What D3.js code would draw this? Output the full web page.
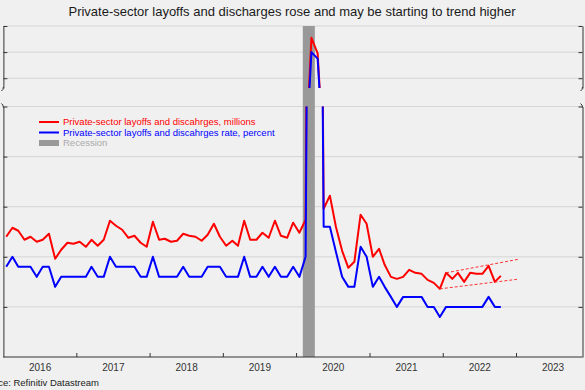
<!DOCTYPE html>
<html><head><meta charset="utf-8">
<script src="https://cdn.jsdelivr.net/npm/d3@7"></script>
<style>
html,body{margin:0;padding:0;background:#f0f0f0;}
svg{display:block;font-family:"Liberation Sans",Arial,sans-serif;}
</style></head>
<body><svg id="c" width="585" height="390"></svg>
<script>
// ---- data ----
const startMonth = "2016-01";
const layoffsMillions = [1.70,1.79,1.76,1.67,1.70,1.65,1.67,1.73,1.48,1.57,1.64,1.63,
 1.65,1.60,1.67,1.61,1.67,1.86,1.81,1.77,1.69,1.71,1.64,1.60,
 1.85,1.67,1.68,1.65,1.66,1.73,1.71,1.70,1.66,1.72,1.83,1.70,
 1.61,1.66,1.61,1.86,1.67,1.67,1.74,1.69,1.86,1.71,1.69,1.84,
 1.74,1.87,11.10,9.91,1.98,2.11,1.80,1.56,1.39,1.45,1.92,1.83,
 1.50,1.58,1.42,1.30,1.28,1.30,1.37,1.34,1.33,1.27,1.24,1.18,
 1.34,1.28,1.34,1.25,1.34,1.33,1.33,1.41,1.25,1.31];
const layoffsRate = [1.4,1.5,1.4,1.4,1.4,1.3,1.4,1.4,1.2,1.3,1.3,1.3,
 1.3,1.3,1.4,1.3,1.3,1.5,1.4,1.4,1.4,1.4,1.3,1.3,
 1.5,1.3,1.3,1.3,1.3,1.4,1.3,1.3,1.3,1.4,1.4,1.4,
 1.3,1.3,1.3,1.5,1.3,1.3,1.4,1.3,1.4,1.3,1.3,1.4,
 1.3,1.5,10.0,9.5,1.8,1.8,1.55,1.3,1.2,1.2,1.6,1.5,
 1.2,1.3,1.2,1.1,1.0,1.1,1.1,1.1,1.1,1.0,1.0,0.9,
 1.0,1.0,1.0,1.0,1.0,1.0,1.0,1.1,1.0,1.0];
const recession = ["2020-02-01","2020-04-01"];
const trendUpper = [["2022-01-15",1.34],["2023-01-10",1.475]];
const trendLower = [["2021-12-15",1.18],["2023-01-03",1.275]];
const years = [2016,2017,2018,2019,2020,2021,2022,2023];
const topTicks = [8,10,12];
const bottomTicks = [1.0,1.5,2.0,2.5,3.0];
const legendLabels = ["Private-sector layoffs and discahrges, millions",
  "Private-sector layoffs and discahrges rate, percent","Recession"];
const title = "Private-sector layoffs and discharges rose and may be starting to trend higher";
const source = "Source: Refinitiv Datastream";

// ---- layout ----
const L = 3.4, R = 582.5;
const topY0 = 26, topY1 = 88, botY0 = 106.5, botY1 = 357;
const parse = d3.timeParse("%Y-%m-%d");
const dates = layoffsMillions.map((_, i) => { const d = d3.timeParse("%Y-%m")(startMonth); return new Date(d.getFullYear(), d.getMonth()+i, 15); });

const x = d3.scaleTime().domain([new Date(2016,0,1), new Date(2023,0,1)]).range([L, 516.5]);
const yTop = d3.scaleLinear().domain([7.25, 12]).range([topY1, topY0]);
const yBot = d3.scaleLinear().domain([0.5, 3.0]).range([botY1, botY0]);

const svg = d3.select("#c");
svg.append("rect").attr("width",585).attr("height",390).attr("fill","#f0f0f0");

const defs = svg.append("defs");
defs.append("clipPath").attr("id","clipTop").append("rect").attr("x",L).attr("y",topY0-2).attr("width",R-L).attr("height",topY1-topY0+2);
defs.append("clipPath").attr("id","clipBot").append("rect").attr("x",L).attr("y",botY0).attr("width",R-L).attr("height",botY1-botY0);

// gridlines
const grid = svg.append("g").attr("stroke","#d6d6d6").attr("stroke-width",1);
topTicks.forEach(t => grid.append("line").attr("x1",L).attr("x2",R).attr("y1",yTop(t)).attr("y2",yTop(t)));
bottomTicks.forEach(t => grid.append("line").attr("x1",L).attr("x2",R).attr("y1",yBot(t)).attr("y2",yBot(t)));

// recession band
svg.append("rect").attr("x",x(parse(recession[0]))).attr("width",x(parse(recession[1]))-x(parse(recession[0])))
  .attr("y",topY0).attr("height",botY1-topY0).attr("fill","#999999");

// lines
const series = [{v:layoffsMillions,c:"#ff0000"},{v:layoffsRate,c:"#0000ff"}];
[["clipTop",yTop],["clipBot",yBot]].forEach(([cid, ys]) => {
  const g = svg.append("g").attr("clip-path",`url(#${cid})`);
  series.forEach(s => {
    const line = d3.line().x((d,i)=>x(dates[i])).y(d=>ys(d));
    g.append("path").attr("d",line(s.v)).attr("fill","none").attr("stroke",s.c)
      .attr("stroke-width",2).attr("stroke-linejoin","round");
  });
});

// trend lines
[trendUpper, trendLower].forEach(tl => {
  svg.append("line").attr("x1",x(parse(tl[0][0]))).attr("y1",yBot(tl[0][1]))
    .attr("x2",x(parse(tl[1][0]))).attr("y2",yBot(tl[1][1]))
    .attr("stroke","#ff3030").attr("stroke-width",1).attr("stroke-dasharray","3,2");
});

// axes
const axCol = "#333";
function styleAxis(g){ g.selectAll("path,line").attr("stroke",axCol); g.selectAll("text").remove(); }
svg.append("g").attr("transform",`translate(${L},0)`).call(d3.axisRight(yTop).tickValues(topTicks).tickSize(4).tickSizeOuter(0)).call(styleAxis);
svg.append("g").attr("transform",`translate(${L},0)`).call(d3.axisRight(yBot).tickValues(bottomTicks).tickSize(4).tickSizeOuter(0)).call(styleAxis);
svg.append("g").attr("transform",`translate(${R},0)`).call(d3.axisLeft(yTop).tickValues(topTicks).tickSize(4).tickSizeOuter(0)).call(styleAxis);
svg.append("g").attr("transform",`translate(${R},0)`).call(d3.axisLeft(yBot).tickValues(bottomTicks).tickSize(4).tickSizeOuter(0)).call(styleAxis);

// break marks
const brk = svg.append("g").attr("stroke",axCol).attr("fill","none").attr("stroke-width",1);
[L, R].forEach(px => {
  brk.append("path").attr("d",`M${px},${topY1-1} q0,3 -2,4`);
  brk.append("path").attr("d",`M${px},${botY0+1} q0,-3 -2,-4`);
});

// x axis
const xAx = svg.append("g").attr("transform",`translate(0,${botY1})`);
xAx.append("line").attr("x1",L).attr("x2",R).attr("stroke",axCol);
xAx.call(g => g.selectAll(".tk").data(years.slice(1)).enter().append("line")
  .attr("x1",d=>x(new Date(d,0,1))).attr("x2",d=>x(new Date(d,0,1))).attr("y1",0).attr("y2",-4).attr("stroke",axCol));
svg.append("g").selectAll("text").data(years).enter().append("text")
  .attr("x",d=>x(new Date(d,6,2))).attr("y",371).attr("text-anchor","middle")
  .attr("font-size","10px").attr("fill","#333").text(d=>d);

// title
svg.append("text").attr("x",292).attr("y",16).attr("text-anchor","middle").attr("font-size","13px").attr("fill","#1a1a1a").text(title);

// source
svg.append("text").attr("x",99).attr("y",386).attr("text-anchor","end").attr("font-size","9.5px").attr("fill","#222").text(source);

// legend
const lg = svg.append("g");
const lcols = ["#ff0000","#0000ff","#aaaaaa"];
legendLabels.forEach((t,i) => {
  const yy = 122 + i*10.5;
  if (i < 2) lg.append("line").attr("x1",39).attr("x2",59).attr("y1",yy).attr("y2",yy).attr("stroke",lcols[i]).attr("stroke-width",2);
  else lg.append("rect").attr("x",39).attr("y",yy-3).attr("width",20).attr("height",6).attr("fill","#999");
  lg.append("text").attr("x",63).attr("y",yy+3.3).attr("font-size","9.5px").attr("fill",lcols[i]).text(t);
});
</script></body></html>
